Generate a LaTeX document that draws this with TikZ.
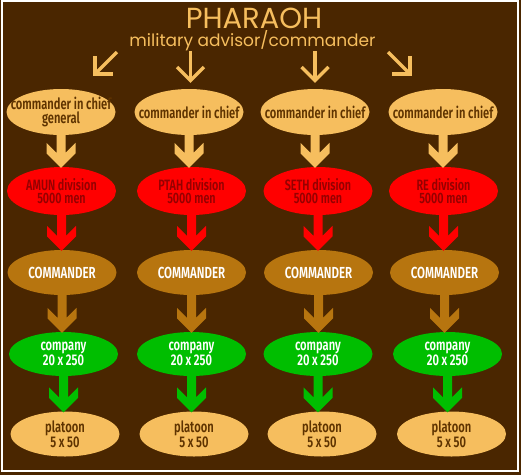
\documentclass[tikz,border=0pt]{standalone}
\usepackage{fontspec}
\setmainfont{Fira Sans}
\newfontfamily\titlefont{Poppins}
\newfontfamily\nodefont[FakeStretch=0.72,UprightFont={* SemiBold}]{Fira Sans}
\usetikzlibrary{shapes.geometric,calc}
\definecolor{bg}{HTML}{4A2600}
\definecolor{lorange}{HTML}{F6BE5E}
\definecolor{tbrown}{HTML}{5E3300}
\definecolor{dred}{HTML}{950000}
\definecolor{cbrown}{HTML}{B7750F}
\definecolor{egreen}{HTML}{00BE00}
\definecolor{ered}{HTML}{FF0000}
\tikzset{
  ell/.style={ellipse,minimum width=109pt,minimum height=46pt,inner sep=0pt},
  txt/.style={inner sep=0pt,align=center},
  chief/.style={ell,fill=lorange},
  chieftxt/.style={txt,text=tbrown,font=\nodefont\fontsize{15.5}{13.5}\selectfont},
  div/.style={ell,fill=ered,minimum height=48pt},
  divtxt/.style={txt,text=dred,font=\nodefont\fontsize{15}{13.6}\selectfont},
  cmd/.style={ell,fill=cbrown,minimum height=45pt},
  cmdtxt/.style={txt,text=white,font=\nodefont\fontsize{16}{15}\selectfont},
  comp/.style={ell,fill=egreen,minimum height=44pt},
  comptxt/.style={txt,text=white,font=\nodefont\fontsize{15.5}{15.7}\selectfont},
  plat/.style={ell,fill=lorange,minimum height=45pt},
  plattxt/.style={txt,text=tbrown,font=\nodefont\fontsize{15.5}{13.8}\selectfont},
  toparrow/.style={draw=lorange,line width=3.5pt,line cap=butt,line join=miter},
}
% ellipse node plus its text
\newcommand\enode[5]{%
  \node[#1] (#2) at (#3) {};
  \node[#1txt] (#2t) at (#2.center) {#5};}
% fat chevron arrow from node #1 to node #2
\newcommand\fatarrow[3]{%
  \fill[#3] let \p1=(#1.south), \p2=(#2.north) in
   (\x1-4.5pt,\y1+2pt) -- (\x1-4.5pt,\y2+14pt) -- (\x1-14.5pt,\y2+24pt) --
   (\x1-14.5pt,\y2+13.5pt) -- (\x1,\y2-1pt) -- (\x1+14.5pt,\y2+13.5pt) --
   (\x1+14.5pt,\y2+24pt) -- (\x1+4.5pt,\y2+14pt) -- (\x1+4.5pt,\y1+2pt) -- cycle;}
\begin{document}
\begin{tikzpicture}[x=1pt,y=-1pt]
\useasboundingbox (0,0) rectangle (521,475);
\fill[bg] (0,0) rectangle (521,475);
\draw[white,line width=2pt] (2,1) rectangle (517.5,471);

\node[anchor=base,text=lorange,inner sep=0pt,font=\titlefont\fontsize{29}{29}\selectfont] (title) at (254,28) {PHARAOH};
\node[anchor=base,text=lorange,inner sep=0pt,font=\titlefont\fontsize{17}{18}\selectfont] (sub) at (252.5,46) {military advisor/commander};

% top arrows
\coordinate (p1s) at (117,52); \coordinate (p1t) at (95,74);
\draw[toparrow] (p1s) -- (p1t);
\draw[toparrow] (95,56) -- (p1t) -- (113,74);
\coordinate (p2s) at (190.5,51); \coordinate (p2t) at (190.5,80.5);
\draw[toparrow] (p2s) -- (p2t);
\draw[toparrow] (177,67) -- (p2t) -- (204,67);
\coordinate (p3s) at (315,51); \coordinate (p3t) at (315,80.5);
\draw[toparrow] (p3s) -- (p3t);
\draw[toparrow] (301.5,67) -- (p3t) -- (328.5,67);
\coordinate (p4s) at (388,52); \coordinate (p4t) at (410,74);
\draw[toparrow] (p4s) -- (p4t);
\draw[toparrow] (410,56) -- (p4t) -- (392,74);

% rows
\enode{chief}{a1}{61,112}{}{commander in chief\\general}
\enode{chief}{a2}{189,112}{}{commander in chief}
\enode{chief}{a3}{315,112}{}{commander in chief}
\enode{chief}{a4}{443,112}{}{commander in chief}

\enode{div}{b1}{61.5,191}{}{AMUN division\\5000 men}
\enode{div}{b2}{191.5,191}{}{PTAH division\\5000 men}
\enode{div}{b3}{318,191}{}{SETH division\\5000 men}
\enode{div}{b4}{443.5,191}{}{RE division\\5000 men}

\enode{cmd}{c1}{62,272.5}{}{COMMANDER}
\enode{cmd}{c2}{191.5,272.5}{}{COMMANDER}
\enode{cmd}{c3}{318.5,272.5}{}{COMMANDER}
\enode{cmd}{c4}{444.5,272.5}{}{COMMANDER}

\enode{comp}{d1}{63.5,354}{}{company\\20\,x\,250}
\enode{comp}{d2}{191.5,354}{}{company\\20\,x\,250}
\enode{comp}{d3}{318,354}{}{company\\20\,x\,250}
\enode{comp}{d4}{447.5,354}{}{company\\20\,x\,250}

\enode{plat}{e1}{65,434}{}{platoon\\5\,x\,50}
\enode{plat}{e2}{194,434}{}{platoon\\5\,x\,50}
\enode{plat}{e3}{322,434}{}{platoon\\5\,x\,50}
\enode{plat}{e4}{451.5,434}{}{platoon\\5\,x\,50}

% connectors
\foreach \i in {1,2,3,4}{
  \fatarrow{a\i}{b\i}{lorange}
  \fatarrow{b\i}{c\i}{ered}
  \fatarrow{c\i}{d\i}{cbrown}
  \fatarrow{d\i}{e\i}{egreen}
}
\end{tikzpicture}
\end{document}
